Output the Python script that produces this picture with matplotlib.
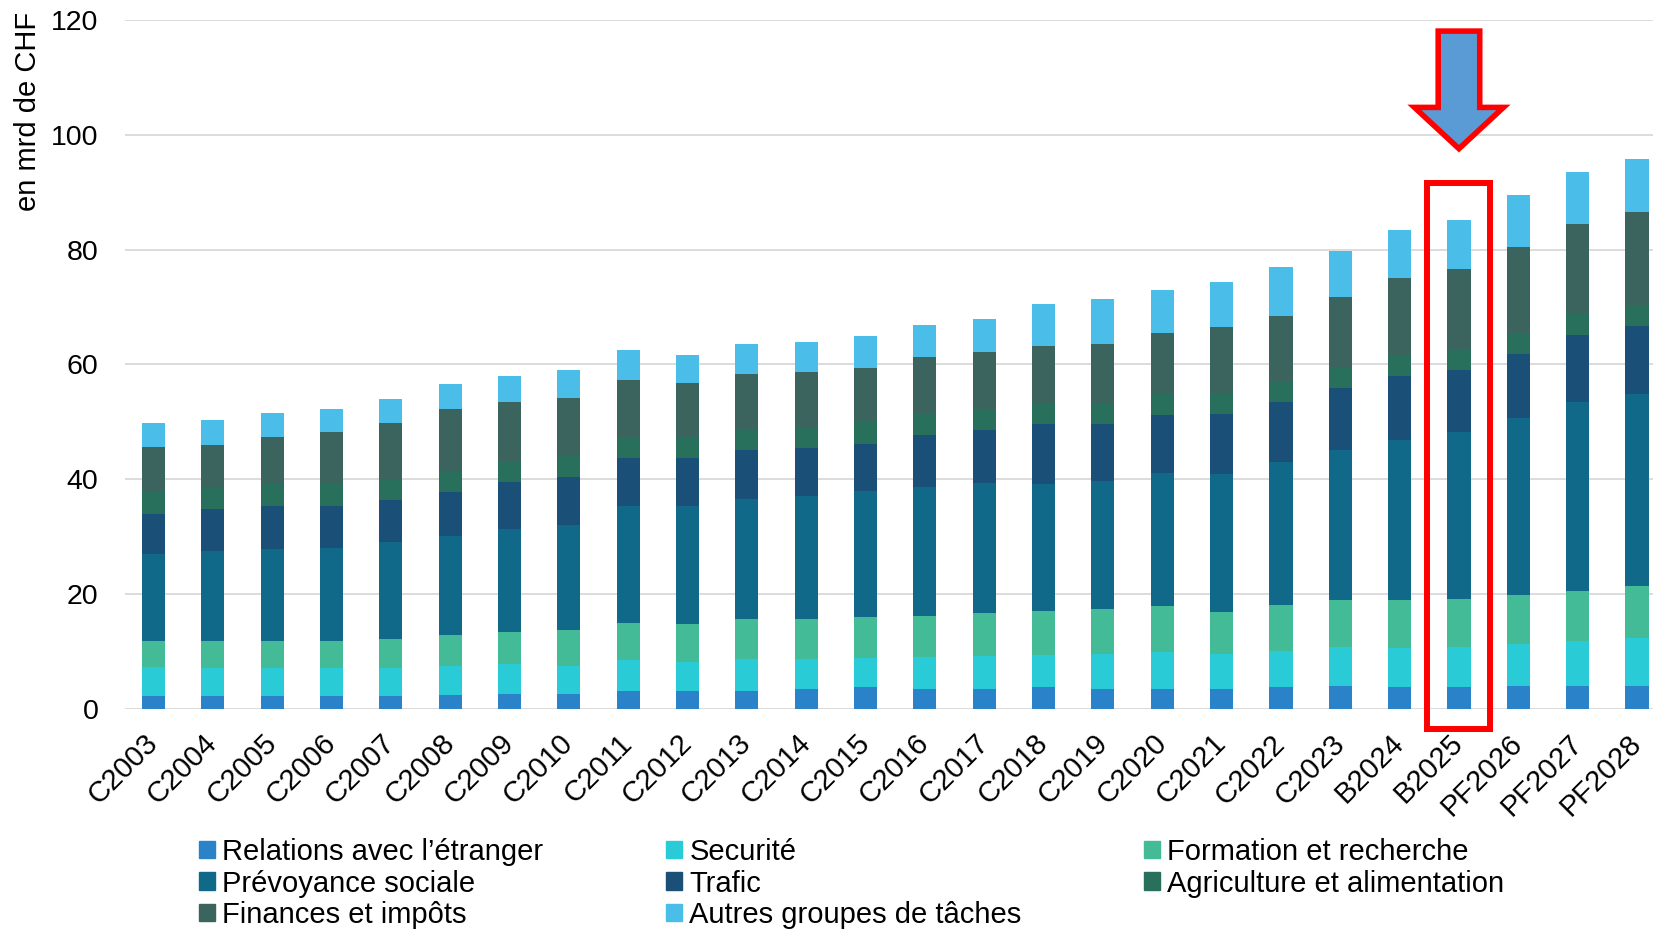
import numpy as np
import matplotlib
matplotlib.use('Agg')
import matplotlib.pyplot as plt
from matplotlib.patches import Polygon, Rectangle, Patch

plt.rcParams['font.family'] = ['Liberation Sans', 'DejaVu Sans']

# annees / labels
annees = ['C2003', 'C2004', 'C2005', 'C2006', 'C2007', 'C2008', 'C2009', 'C2010',
          'C2011', 'C2012', 'C2013', 'C2014', 'C2015', 'C2016', 'C2017', 'C2018',
          'C2019', 'C2020', 'C2021', 'C2022', 'C2023', 'B2024', 'B2025',
          'PF2026', 'PF2027', 'PF2028']

# depenses par groupe de taches, en mrd de CHF
relations = [2.2, 2.2, 2.2, 2.2, 2.2, 2.3, 2.5, 2.5, 3.1, 3.0, 3.1, 3.5, 3.7,
             3.5, 3.5, 3.7, 3.4, 3.5, 3.5, 3.7, 3.9, 3.7, 3.7, 3.9, 3.9, 4.0]
securite = [5.1, 4.9, 4.9, 4.8, 4.9, 5.2, 5.2, 5.0, 5.3, 5.1, 5.6, 5.1, 5.2,
            5.5, 5.6, 5.6, 6.1, 6.3, 6.0, 6.4, 6.8, 6.8, 7.1, 7.4, 7.9, 8.3]
formation = [4.4, 4.7, 4.7, 4.8, 5.0, 5.3, 5.6, 6.2, 6.5, 6.6, 7.0, 7.1, 7.0,
             7.2, 7.5, 7.7, 7.8, 8.0, 7.3, 7.9, 8.2, 8.4, 8.3, 8.5, 8.7, 9.0]
prevoyance = [15.2, 15.6, 16.0, 16.2, 16.9, 17.3, 18.0, 18.3, 20.5, 20.7, 20.9,
              21.3, 22.0, 22.4, 22.8, 22.2, 22.4, 23.3, 24.1, 25.0, 26.1, 28.0,
              29.1, 30.9, 33.0, 33.6]
trafic = [7.1, 7.4, 7.6, 7.4, 7.3, 7.6, 8.2, 8.3, 8.2, 8.2, 8.4, 8.5, 8.3,
          9.1, 9.2, 10.4, 9.9, 10.1, 10.5, 10.4, 10.8, 11.0, 10.9, 11.2, 11.7, 11.8]
agriculture = [3.9, 3.7, 3.7, 3.7, 3.6, 3.7, 3.7, 3.7, 3.7, 3.7, 3.6, 3.6, 3.7,
               3.8, 3.6, 3.7, 3.7, 3.7, 3.5, 3.7, 3.7, 3.8, 3.6, 3.6, 3.6, 3.7]
finances = [7.7, 7.5, 8.3, 9.1, 9.9, 10.8, 10.2, 10.2, 10.0, 9.4, 9.8, 9.5, 9.5,
            9.8, 9.9, 9.9, 10.2, 10.5, 11.7, 11.4, 12.2, 13.3, 13.9, 14.9, 15.7, 16.2]
autres = [4.2, 4.3, 4.1, 4.0, 4.1, 4.3, 4.6, 4.9, 5.2, 5.0, 5.2, 5.3, 5.6,
          5.6, 5.9, 7.3, 7.9, 7.5, 7.7, 8.4, 8.1, 8.4, 8.5, 9.1, 9.0, 9.2]

noms = ['Relations avec l\u2019étranger', 'Securité', 'Formation et recherche',
        'Prévoyance sociale', 'Trafic', 'Agriculture et alimentation',
        'Finances et impôts', 'Autres groupes de tâches']
couleurs = ['#2A83C8', '#29CCD6', '#44BB97', '#11698A', '#1A4F77', '#28705B',
            '#3B645E', '#4BBDE9']
series = [relations, securite, formation, prevoyance, trafic, agriculture,
          finances, autres]

"""
figure
"""
W, H = 1653, 933
fig = plt.figure(figsize=(W / 100, H / 100), dpi=100)
ax = fig.add_axes([125 / W, 1 - 708.6 / H, 1 - 125 / W, (708.6 - 20.2) / H])

x = np.arange(len(annees))
bottom = np.zeros(len(annees))
for vals, nom, c in zip(series, noms, couleurs):
    ax.bar(x, vals, 0.39, bottom=bottom, color=c, label=nom, zorder=2)
    bottom += np.array(vals)

ax.set_ylim(0, 120)
ax.set_xlim(-0.48, 25.27)
ax.set_yticks(range(0, 121, 20))
ax.yaxis.grid(True, color='#D9D9D9', lw=1.3, zorder=0)
ax.set_axisbelow(True)
for s in ax.spines.values():
    s.set_visible(False)
ax.tick_params(axis='y', length=0, labelsize=20.5, pad=19)
ax.tick_params(axis='x', length=0, labelsize=21, pad=22)
ax.set_xticks(x)
ax.set_xticklabels(annees, rotation=45, ha='right', va='center', rotation_mode='anchor')

fig.text(28 / W, 1 - 111 / H, 'en mrd de CHF', rotation=90, fontsize=21,
         ha='center', va='center')

# fleche + cadre rouge sur B2025
i = annees.index('B2025')
fleche = [(i - 0.35, 118.1), (i + 0.35, 118.1), (i + 0.35, 104.8), (i + 0.75, 104.8),
          (i, 97.6), (i - 0.75, 104.8), (i - 0.35, 104.8)]
ax.add_patch(Polygon(fleche, closed=True, facecolor='#5B9BD5', edgecolor='#FF0000',
                     lw=4, joinstyle='miter', clip_on=False, zorder=5))
ax.add_patch(Rectangle((i - 0.54, -3.6), 1.06, 95.2, fill=False, edgecolor='#FF0000',
                       lw=4.3, joinstyle='miter', clip_on=False, zorder=5))

# legende (ordre colonne par colonne)
ordre = [0, 3, 6, 1, 4, 7, 2, 5]
poignees = [Patch(color=couleurs[k], label=noms[k]) for k in ordre]
fig.legend(handles=poignees, loc='upper left', bbox_to_anchor=(199 / W, 1 - 838 / H),
           ncol=3, frameon=False, fontsize=21, handlelength=0.55, handleheight=0.55,
           handletextpad=0.25, labelspacing=0.12, columnspacing=4.2, borderpad=0,
           borderaxespad=0)

plt.savefig('out.png', dpi=100)
